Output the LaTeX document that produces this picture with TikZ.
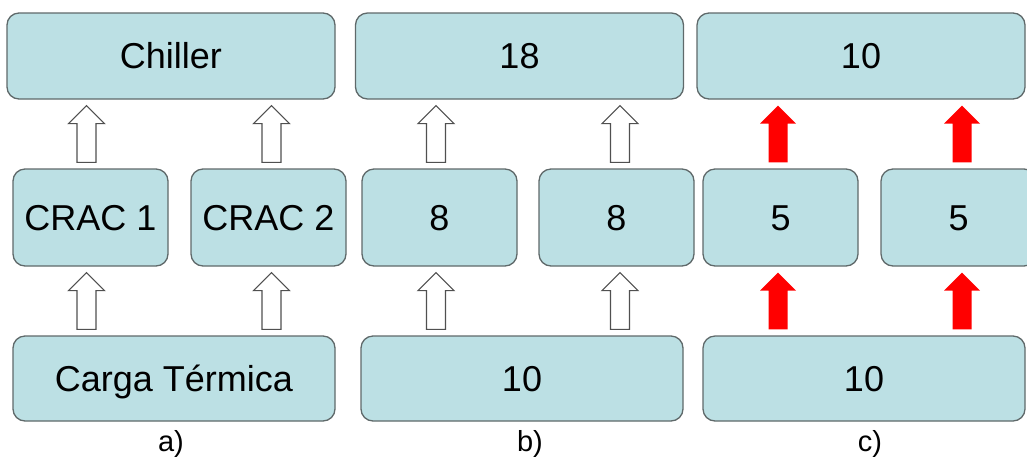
\documentclass[tikz,border=0pt]{standalone}
\usepackage{fontspec}
\setmainfont{Liberation Sans}
\usetikzlibrary{calc}

\definecolor{boxfill}{RGB}{188,224,228}
\definecolor{boxline}{RGB}{95,105,106}
\definecolor{arrowline}{RGB}{80,80,80}
\definecolor{heatred}{RGB}{255,0,0}

% Block arrow pointing up: #1 style, #2 node giving the x position,
% #3 anchor of the lower box, #4 anchor of the upper box
\newcommand\flowarrow[4]{%
  \draw[#1] let \p1=(#2), \p2=(#3), \p3=(#4) in
    (\x1-9.5pt,\y2+6pt) -- (\x1-9.5pt,\y3-24pt) -- (\x1-18pt,\y3-24pt)
    -- (\x1,\y3-6pt) -- (\x1+18pt,\y3-24pt) -- (\x1+9.5pt,\y3-24pt)
    -- (\x1+9.5pt,\y2+6pt) -- cycle;}

\tikzset{
  box/.style={draw=boxline, fill=boxfill, line width=1.3pt, rounded corners=12pt,
    inner sep=0pt, font=\fontsize{36}{42}\selectfont, text height=25.5pt, text depth=0pt},
  topbox/.style={box, minimum width=328pt, minimum height=86pt},
  unitbox/.style={box, minimum width=155pt, minimum height=97pt},
  loadbox/.style={box, minimum width=322pt, minimum height=85pt},
  caption/.style={font=\fontsize{29}{34}\selectfont, inner sep=0pt, anchor=base},
  openarrow/.style={draw=arrowline, fill=white, line width=1.1pt, line join=miter},
  hotarrow/.style={fill=heatred, draw=none},
}

\begin{document}
\begin{tikzpicture}[x=1pt,y=-1pt]
\useasboundingbox (0,0) rectangle (1027,459);
\clip (0,0) rectangle (1027,459);

% a) names of the units
\node[topbox]  (chA)  at (171,56)    {Chiller};
\node[unitbox] (cA1)  at (90.5,217.5) {CRAC 1};
\node[unitbox] (cA2)  at (268.5,217.5) {CRAC 2};
\node[loadbox] (ldA)  at (174,378.5) {Carga Térmica};
\node[caption] (capA) at (171,451) {a)};

\flowarrow{openarrow}{[xshift=-4pt]cA1.center}{cA1.north}{chA.south}
\flowarrow{openarrow}{[xshift=3pt]cA2.center}{cA2.north}{chA.south}
\flowarrow{openarrow}{[xshift=-4pt]cA1.center}{ldA.north}{cA1.south}
\flowarrow{openarrow}{[xshift=3pt]cA2.center}{ldA.north}{cA2.south}

% b) capacities
\node[topbox]  (chB)  at (519.5,56)   {18};
\node[unitbox] (cB1)  at (439.5,217.5) {8};
\node[unitbox] (cB2)  at (616.5,217.5) {8};
\node[loadbox] (ldB)  at (522,378.5)  {10};
\node[caption] (capB) at (530,451) {b)};

\flowarrow{openarrow}{[xshift=-3.5pt]cB1.center}{cB1.north}{chB.south}
\flowarrow{openarrow}{[xshift=3.5pt]cB2.center}{cB2.north}{chB.south}
\flowarrow{openarrow}{[xshift=-3.5pt]cB1.center}{ldB.north}{cB1.south}
\flowarrow{openarrow}{[xshift=3.5pt]cB2.center}{ldB.north}{cB2.south}

% c) actual heat flow
\node[topbox]  (chC)  at (861,56)    {10};
\node[unitbox] (cC1)  at (780.5,217.5) {5};
\node[unitbox] (cC2)  at (958.5,217.5) {5};
\node[loadbox] (ldC)  at (864,378.5) {10};
\node[caption] (capC) at (870,451) {c)};

\flowarrow{hotarrow}{[xshift=-2.5pt]cC1.center}{cC1.north}{chC.south}
\flowarrow{hotarrow}{[xshift=3.5pt]cC2.center}{cC2.north}{chC.south}
\flowarrow{hotarrow}{[xshift=-2.5pt]cC1.center}{ldC.north}{cC1.south}
\flowarrow{hotarrow}{[xshift=3.5pt]cC2.center}{ldC.north}{cC2.south}
\end{tikzpicture}
\end{document}
